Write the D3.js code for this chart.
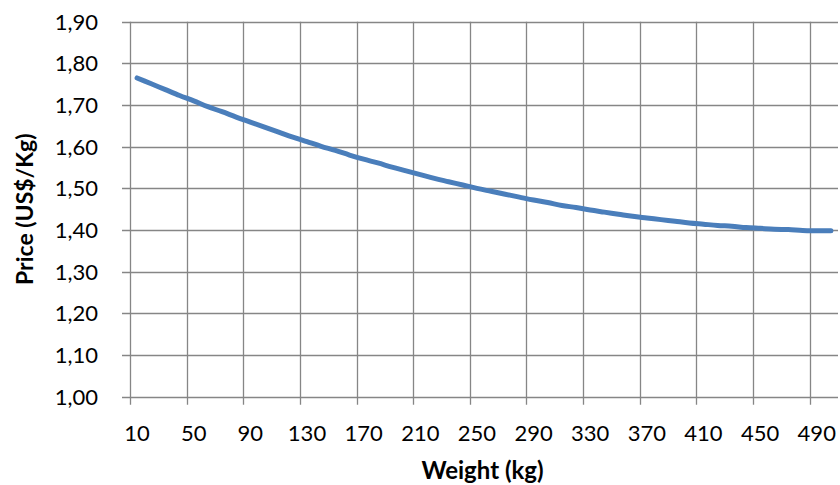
<!DOCTYPE html>
<html>
<head>
<meta charset="utf-8">
<script src="https://cdn.jsdelivr.net/npm/d3@7"></script>
<style>
  html, body { margin: 0; padding: 0; background: #fff; }
  svg { display: block; }
  text { font-family: Lato, "Open Sans", sans-serif; fill: #000; }
</style>
</head>
<body>
<svg id="chart" width="840" height="485"></svg>
<script>
// Categories (kg)
const weights = [10,20,30,40,50,60,70,80,90,100,110,120,130,140,150,160,170,180,190,200,
  210,220,230,240,250,260,270,280,290,300,310,320,330,340,350,360,370,380,390,400,
  410,420,430,440,450,460,470,480,490,500];
// Price (US$/Kg)
const prices = [1.765,1.751,1.737,1.723,1.710,1.696,1.684,1.671,1.659,1.647,
  1.635,1.623,1.612,1.601,1.591,1.580,1.570,1.561,1.551,1.542,
  1.533,1.524,1.516,1.508,1.500,1.493,1.486,1.479,1.472,1.466,
  1.459,1.454,1.448,1.443,1.438,1.433,1.429,1.425,1.421,1.417,
  1.414,1.411,1.409,1.406,1.404,1.402,1.401,1.399,1.398,1.398];
const xTickLabels = [10,50,90,130,170,210,250,290,330,370,410,450,490];
const yTicks = [1.00,1.10,1.20,1.30,1.40,1.50,1.60,1.70,1.80,1.90];

(function () {
const svg = d3.select("#chart");
const pLeft = 130, pRight = 838, pTop = 21.7, pBottom = 396.7;
const gridColor = "#868686";

const x = d3.scaleBand().domain(weights).range([pLeft, pRight]).paddingInner(0).paddingOuter(0);
const y = d3.scaleLinear().domain([1.0, 1.9]).range([pBottom, pTop]);
const fmt = d3.formatLocale({decimal: ",", thousands: ".", grouping: [3], currency: ["", ""]}).format(".2f");

// horizontal gridlines + y ticks
svg.append("g").selectAll("line").data(yTicks).join("line")
  .attr("x1", pLeft - 8).attr("x2", pRight)
  .attr("y1", d => Math.round(y(d)) + 0.5).attr("y2", d => Math.round(y(d)) + 0.5)
  .attr("stroke", gridColor).attr("stroke-width", 1.3);

// vertical gridlines at category boundaries (every 4th category)
svg.append("g").selectAll("line").data(xTickLabels).join("line")
  .attr("x1", d => Math.round(x(d)) + 0.5).attr("x2", d => Math.round(x(d)) + 0.5)
  .attr("y1", pTop).attr("y2", pBottom + 8)
  .attr("stroke", gridColor).attr("stroke-width", 1.3);

// y labels
svg.append("g").selectAll("text").data(yTicks).join("text")
  .attr("x", 98).attr("y", d => y(d)).attr("dy", "0.36em")
  .attr("text-anchor", "end").attr("font-size", 22)
  .text(d => fmt(d));

// x labels
svg.append("g").selectAll("text").data(xTickLabels).join("text")
  .attr("x", d => x(d) + x.bandwidth() / 2).attr("y", 433).attr("dy", "0.36em")
  .attr("text-anchor", "middle").attr("font-size", 22)
  .text(d => d);

// line
const line = d3.line()
  .x((d, i) => x(weights[i]) + x.bandwidth() / 2)
  .y(d => y(d))
  .curve(d3.curveMonotoneX);
svg.append("path").datum(prices)
  .attr("d", line).attr("fill", "none")
  .attr("stroke", "#4a7ebb").attr("stroke-width", 5)
  .attr("stroke-linecap", "round").attr("stroke-linejoin", "round");

// axis titles
svg.append("text")
  .attr("x", 482.5).attr("y", 479)
  .attr("text-anchor", "middle").attr("font-size", 24).attr("font-weight", "bold")
  .text("Weight (kg)");
svg.append("text")
  .attr("transform", `translate(33,${(pTop + pBottom) / 2}) rotate(-90)`)
  .attr("text-anchor", "middle").attr("font-size", 23).attr("font-weight", "bold")
  .text("Price (US$/Kg)");
})();
</script>
</body>
</html>
